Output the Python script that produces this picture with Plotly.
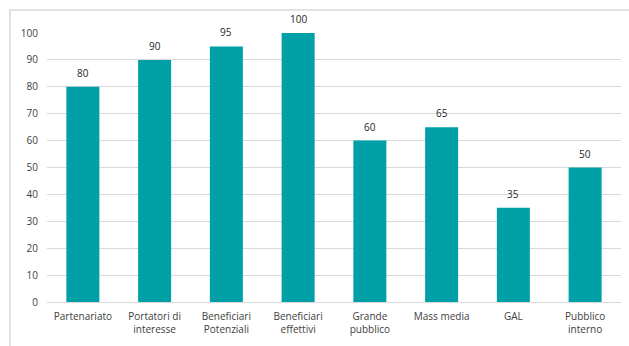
import plotly.graph_objects as go

categories = ["Partenariato", "Portatori di<br>interesse", "Beneficiari<br>Potenziali",
              "Beneficiari<br>effettivi", "Grande<br>pubblico", "Mass media", "GAL",
              "Pubblico<br>interno"]
values = [80, 90, 95, 100, 60, 65, 35, 50]
y_ticks = list(range(0, 101, 10))

W, H = 629, 346
ml, mr, mt, mb = 47, 8, 33, 44
pw, ph = W - ml - mr, H - mt - mb

fig = go.Figure(go.Bar(
    x=categories, y=values,
    marker=dict(color="#00A0A6", line=dict(width=0)),
    cliponaxis=False,
))

for c, v in zip(categories, values):
    fig.add_annotation(x=c, y=v, text=str(v), showarrow=False, yanchor="bottom",
                       yshift=5, font=dict(family="Open Sans", size=10, color="#262626"))

fig.update_layout(
    width=W, height=H,
    margin=dict(l=ml, r=mr, t=mt, b=mb),
    paper_bgcolor="white", plot_bgcolor="white",
    bargap=0.54,
    showlegend=False,
    font=dict(family="Open Sans", size=10, color="#404040"),
    xaxis=dict(showgrid=False, showline=True, linecolor="#d9d9d9", linewidth=1,
               tickfont=dict(size=10, color="#404040"), ticks="", ticklabelstandoff=5),
    yaxis=dict(range=[0, 100], tickvals=y_ticks, showgrid=True, gridcolor="#d9d9d9",
               gridwidth=1, zeroline=False, showline=False, ticks="",
               tickfont=dict(size=10, color="#404040"), ticklabelstandoff=8),
    shapes=[dict(type="rect", xref="paper", yref="paper",
                 x0=(10 - ml) / pw, x1=1.2, y0=-0.5, y1=1 + (mt - 10) / ph,
                 line=dict(color="#d9d9d9", width=1.5), fillcolor="rgba(0,0,0,0)",
                 layer="below")],
)

fig.write_html("out.html")
